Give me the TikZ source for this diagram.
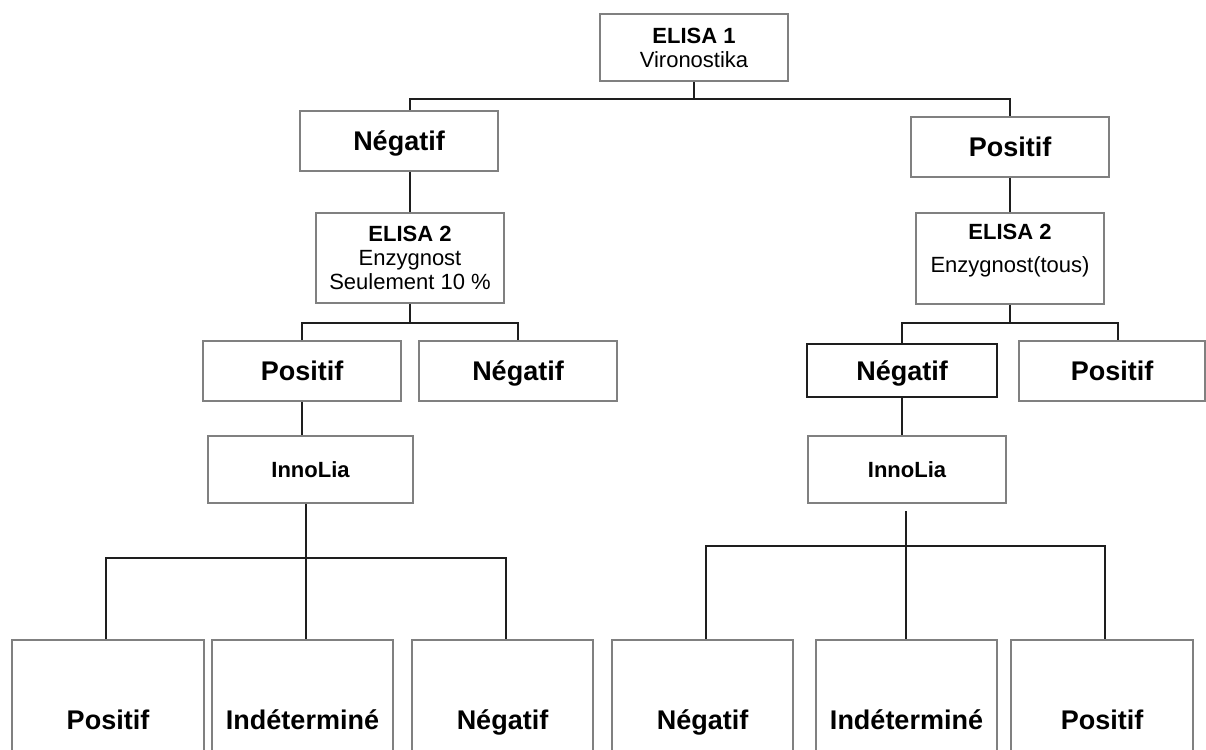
\documentclass[tikz,border=0pt]{standalone}
\usepackage{fontspec}
\setmainfont{Liberation Sans}
\definecolor{boxgray}{RGB}{128,128,128}
\definecolor{ink}{RGB}{30,30,30}
\tikzset{
  box/.style={draw=boxgray, line width=1.8pt, rectangle, inner sep=0pt},
  lbl/.style={box, font=\fontsize{27}{30}\selectfont\bfseries, text height=19.4pt, text depth=0pt},
  bot/.style={lbl, minimum height=160pt},
  multi/.style={box, align=center, font=\fontsize{22}{24}\selectfont},
  inno/.style={box, font=\fontsize{22}{24}\selectfont\bfseries, minimum height=67pt},
  conn/.style={draw=ink, line width=1.8pt},
}
\begin{document}
\begin{tikzpicture}[x=1pt,y=-1pt]
\useasboundingbox (0,0) rectangle (1206,749);
\clip (0,0) rectangle (1206,749);

% level 0
\node[multi, minimum width=188pt, minimum height=67pt] (e1) at (694,47.5) {\textbf{ELISA 1}\\Vironostika};
% level 1
\node[lbl, minimum width=198pt, minimum height=60pt] (n1) at (399,141) {Négatif};
\node[lbl, minimum width=198pt, minimum height=60pt] (p1) at (1010,147) {Positif};
% level 2
\node[multi, minimum width=188pt, minimum height=90pt] (e2l) at (410,258) {\textbf{ELISA 2}\\Enzygnost\\Seulement 10 \%};
\node[box, minimum width=188pt, minimum height=91pt] (e2r) at (1010,258.5) {};
\node[multi, draw=none] (e2rt) at (1010,251) {\textbf{ELISA 2}\\[9pt]Enzygnost(tous)};
% level 3
\node[lbl, minimum width=198pt, minimum height=60pt] (p2l) at (302,371) {Positif};
\node[lbl, minimum width=198pt, minimum height=60pt] (n2l) at (518,371) {Négatif};
\node[lbl, draw=ink, minimum width=190pt, minimum height=53pt] (n2r) at (902,370.5) {Négatif};
\node[lbl, minimum width=186pt, minimum height=60pt] (p2r) at (1112,371) {Positif};
% level 4
\node[inno, minimum width=205pt] (i1) at (310.5,469.5) {InnoLia};
\node[inno, minimum width=198pt] (i2) at (907,469.5) {InnoLia};
% level 5
\node[bot, minimum width=192pt] (b1) at (108,720) {Positif};
\node[bot, minimum width=181pt] (b2) at (302.5,720) {Indéterminé};
\node[bot, minimum width=181pt] (b3) at (502.5,720) {Négatif};
\node[bot, minimum width=181pt] (b4) at (702.5,720) {Négatif};
\node[bot, minimum width=181pt] (b5) at (906.5,720) {Indéterminé};
\node[bot, minimum width=182pt] (b6) at (1102,720) {Positif};

% connectors
\coordinate (j1) at (694,99);
\coordinate (j1a) at (410,99);
\coordinate (j1b) at (1010,99);
\draw[conn] (e1.south) -- (j1);
\draw[conn] (n1.north -| j1a) -- (j1a) -- (j1b) -- (p1.north);
\draw[conn] (n1.south -| e2l.north) -- (e2l.north);
\draw[conn] (p1.south) -- (e2r.north);

\coordinate (j2) at (410,323);
\draw[conn] (e2l.south) -- (j2);
\draw[conn] (p2l.north) |- (j2) -| (n2l.north);

\coordinate (j3) at (1010,323);
\coordinate (j3b) at (1118,323);
\draw[conn] (e2r.south) -- (j3);
\draw[conn] (n2r.north) |- (j3) -- (j3b) -- (p2r.north -| j3b);

\draw[conn] (p2l.south) -- (p2l.south |- i1.north);
\draw[conn] (n2r.south) -- (n2r.south |- i2.north);

\coordinate (j4) at (306,558);
\coordinate (j4a) at (106,558);
\coordinate (j4b) at (506,558);
\draw[conn] (i1.south -| j4) -- (b2.north -| j4);
\draw[conn] (b1.north -| j4a) -- (j4a) -- (j4b) -- (b3.north -| j4b);

\coordinate (j5) at (906,546);
\coordinate (j5t) at (906,511);
\coordinate (j5a) at (706,546);
\coordinate (j5b) at (1105,546);
\draw[conn] (j5t) -- (b5.north -| j5);
\draw[conn] (b4.north -| j5a) -- (j5a) -- (j5b) -- (b6.north -| j5b);
\end{tikzpicture}
\end{document}
